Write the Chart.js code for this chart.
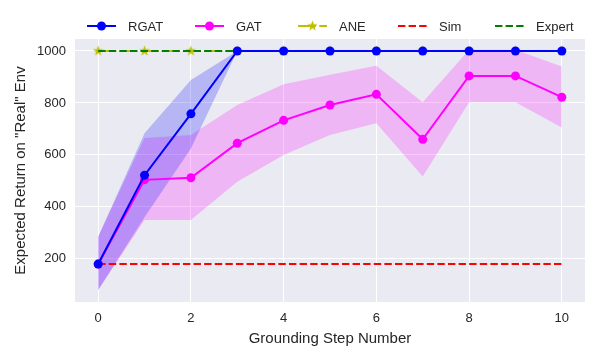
<!DOCTYPE html>
<html>
<head>
<meta charset="utf-8">
<script src="https://cdn.jsdelivr.net/npm/chart.js@4.4.1/dist/chart.umd.min.js"></script>
<style>
  html, body { margin: 0; padding: 0; background: #fff; }
</style>
</head>
<body>
<canvas id="chart" width="600" height="360"></canvas>
<script>
// Données
const steps = [0, 1, 2, 3, 4, 5, 6, 7, 8, 9, 10];
const rgatMean  = [180, 522, 758, 1000, 1000, 1000, 1000, 1000, 1000, 1000, 1000];
const rgatUpper = [285, 683, 888, 1000, 1000, 1000, 1000, 1000, 1000, 1000, 1000];
const rgatLower = [80, 360, 625, 1000, 1000, 1000, 1000, 1000, 1000, 1000, 1000];
const gatMean  = [180, 504, 512, 645, 733, 792, 833, 660, 904, 904, 822];
const gatUpper = [285, 665, 677, 792, 872, 908, 943, 803, 1005, 1005, 940];
const gatLower = [80, 350, 350, 497, 600, 677, 722, 517, 803, 803, 705];
const aneValues = [1000, 1000, 1000, 1000, 1000, 1000, 1000, 1000, 1000, 1000, 1000];
const simValues = [180, 180, 180, 180, 180, 180, 180, 180, 180, 180, 180];
const expertValues = [1000, 1000, 1000, 1000, 1000, 1000, 1000, 1000, 1000, 1000, 1000];
const xTicks = [0, 2, 4, 6, 8, 10];
const yTicks = [200, 400, 600, 800, 1000];

const TEXT = '#262626';
Chart.defaults.font.family = '"Liberation Sans", Arial, sans-serif';
Chart.defaults.color = TEXT;

function toPoints(values) {
    return values.map((v, i) => ({ x: steps[i], y: v }));
}

// étoile pleine façon matplotlib '*'
function makeStar(color, r) {
    const c = document.createElement('canvas');
    const s = Math.ceil(r * 2 + 2);
    c.width = s;
    c.height = s;
    const g = c.getContext('2d');
    g.beginPath();
    for (let k = 0; k < 10; k++) {
        const rad = k % 2 === 0 ? r : r * 0.42;
        const a = -Math.PI / 2 + k * Math.PI / 5;
        g.lineTo(s / 2 + rad * Math.cos(a), s / 2 + rad * Math.sin(a));
    }
    g.closePath();
    g.fillStyle = color;
    g.fill();
    return c;
}
const starImg = makeStar('#bfbf00', 5.5);

const lineBase = { showLine: true, tension: 0, borderWidth: 2, fill: false };
const bandBase = { showLine: true, tension: 0, borderWidth: 0, pointRadius: 0 };

const datasets = [
    { ...lineBase, label: 'RGAT', data: toPoints(rgatMean), borderColor: '#0000ff',
      backgroundColor: '#0000ff', pointRadius: 4.5, pointBorderWidth: 0, order: 0 },
    { ...lineBase, label: 'GAT', data: toPoints(gatMean), borderColor: '#ff00ff',
      backgroundColor: '#ff00ff', pointRadius: 4.5, pointBorderWidth: 0, order: 1 },
    { ...lineBase, label: 'ANE', data: toPoints(aneValues), borderColor: '#bfbf00',
      borderDash: [12.8, 3.2, 2, 3.2], pointStyle: starImg, pointRadius: 5, order: 3 },
    { ...lineBase, label: 'Sim', data: toPoints(simValues), borderColor: '#ff0000',
      borderDash: [7.4, 3.2], pointRadius: 0, order: 4 },
    { ...lineBase, label: 'Expert', data: toPoints(expertValues), borderColor: '#008000',
      borderDash: [7.4, 3.2], pointRadius: 0, order: 2 },
    { ...bandBase, label: 'rgatBand', data: toPoints(rgatUpper), fill: '+1',
      backgroundColor: 'rgba(0, 0, 255, 0.22)', order: 6 },
    { ...bandBase, label: 'rgatLow', data: toPoints(rgatLower), fill: false, order: 7 },
    { ...bandBase, label: 'gatBand', data: toPoints(gatUpper), fill: '+1',
      backgroundColor: 'rgba(255, 0, 255, 0.22)', order: 8 },
    { ...bandBase, label: 'gatLow', data: toPoints(gatLower), fill: false, order: 9 }
];

// fond gris du cadre
const plotBg = {
    id: 'plotBg',
    beforeDraw(chart) {
        const { ctx, chartArea: a } = chart;
        ctx.save();
        ctx.fillStyle = '#eaeaf2';
        ctx.fillRect(a.left, a.top, a.right - a.left, a.bottom - a.top);
        ctx.restore();
    }
};

// légende en haut, une ligne de 5 entrées
const legendStarts = [87, 195, 298, 398, 495];
const topLegend = {
    id: 'topLegend',
    afterDraw(chart) {
        const ctx = chart.ctx;
        const y = 26;
        for (let i = 0; i < 5; i++) {
            const ds = chart.data.datasets[i];
            const x0 = legendStarts[i];
            ctx.save();
            ctx.strokeStyle = ds.borderColor;
            ctx.lineWidth = 2;
            ctx.setLineDash(ds.borderDash || []);
            ctx.beginPath();
            ctx.moveTo(x0, y);
            ctx.lineTo(x0 + 29, y);
            ctx.stroke();
            ctx.setLineDash([]);
            const cx = x0 + 14.5;
            if (ds.pointStyle === starImg) {
                ctx.drawImage(starImg, cx - starImg.width / 2, y - starImg.height / 2);
            } else if (ds.pointRadius > 0) {
                ctx.fillStyle = ds.borderColor;
                ctx.beginPath();
                ctx.arc(cx, y, 4.5, 0, Math.PI * 2);
                ctx.fill();
            }
            ctx.fillStyle = TEXT;
            ctx.font = '13px "Liberation Sans", Arial, sans-serif';
            ctx.textBaseline = 'middle';
            ctx.fillText(ds.label, x0 + 41, y + 1);
            ctx.restore();
        }
    }
};

new Chart(document.getElementById('chart'), {
    type: 'scatter',
    data: { datasets },
    options: {
        responsive: false,
        animation: false,
        layout: { padding: { top: 39, right: 15, left: 0, bottom: 0 } },
        plugins: { legend: { display: false }, tooltip: { enabled: false } },
        scales: {
            x: {
                type: 'linear', min: -0.5, max: 10.5,
                afterBuildTicks: axis => { axis.ticks = xTicks.map(v => ({ value: v })); },
                afterFit: scale => { scale.height = 58; },
                grid: { color: '#ffffff', lineWidth: 1, drawTicks: false },
                border: { display: false },
                ticks: { padding: 9, font: { size: 13 }, color: TEXT, callback: v => String(v) },
                title: { display: true, text: 'Grounding Step Number', font: { size: 15 },
                         color: TEXT, padding: { top: 0, bottom: 12 } }
            },
            y: {
                type: 'linear', min: 34, max: 1046,
                afterBuildTicks: axis => { axis.ticks = yTicks.map(v => ({ value: v })); },
                afterFit: scale => { scale.width = 75; },
                grid: { color: '#ffffff', lineWidth: 1, drawTicks: false },
                border: { display: false },
                ticks: { padding: 9, font: { size: 13 }, color: TEXT, callback: v => String(v) },
                title: { display: true, text: 'Expected Return on "Real" Env', font: { size: 15 },
                         color: TEXT, padding: { top: 12, bottom: 0 } }
            }
        }
    },
    plugins: [plotBg, topLegend]
});
</script>
</body>
</html>
